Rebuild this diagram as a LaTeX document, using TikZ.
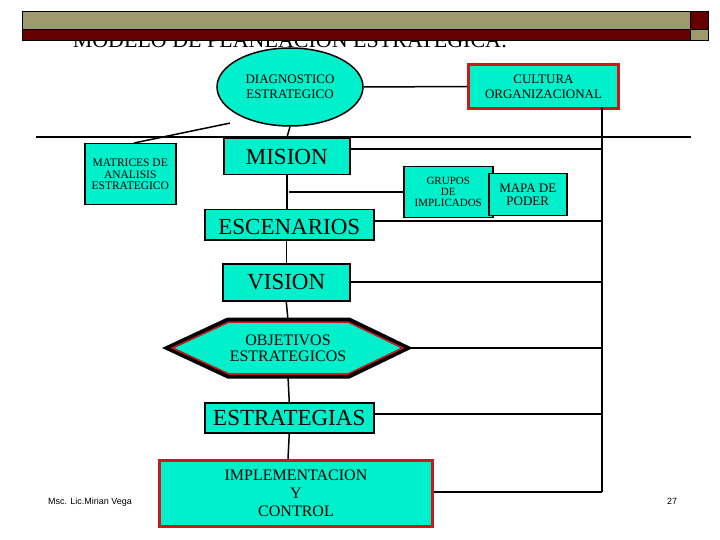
\documentclass[tikz,border=0pt]{standalone}
\usepackage{fontspec}
\usetikzlibrary{shapes.geometric}
\setmainfont{Liberation Serif}
\newfontfamily\sansf{Liberation Sans}
\definecolor{cy}{HTML}{00F0CC}
\definecolor{olv}{HTML}{9E9A6E}
\definecolor{dred}{HTML}{660000}
\definecolor{rd}{HTML}{CC1818}
\begin{document}
\begin{tikzpicture}[x=1pt,y=-1pt,
  bx/.style={draw=black,line width=1.5pt,fill=cy,inner sep=0pt,anchor=north west},
  ln/.style={line width=1.5pt},
  fs/.style={font=\fontsize{#1}{#1}\selectfont}]
\useasboundingbox (0,0) rectangle (720,540);
\fill[white] (0,0) rectangle (720,540);
% title (partly hidden)
\node[fs=22,anchor=base] (title) at (290,48) {MODELO DE PLANEACION ESTRATEGICA:};
% header bars
\draw[fill=olv,line width=1pt] (22,12) rectangle (690,30);
\draw[fill=dred,line width=1pt] (22,30) rectangle (690,41);
\draw[fill=dred,line width=1pt] (690,12) rectangle (708,30);
\draw[fill=olv,line width=1pt] (690,30) rectangle (708,41);
% nodes
\node[draw,line width=1.5pt,fill=cy,ellipse,minimum width=146pt,minimum height=78pt,inner sep=0pt,align=center,fs=13] (diag) at (290,87) {DIAGNOSTICO\\[2pt]ESTRATEGICO};
\node[bx,draw=rd,line width=3pt,minimum width=150pt,minimum height=44pt] (cult) at (467,63) {};
\node[fill=cy,minimum width=140pt,minimum height=35pt,align=center,fs=13] (cultt) at (cult.center) {CULTURA\\[2pt]ORGANIZACIONAL};
\node[bx,minimum width=126pt,minimum height=36pt,fs=23] (mis) at (223,138) {};
\node[fs=23] at (mis.center) {MISION};
\node[bx,minimum width=91pt,minimum height=61pt,align=center,fs=11.5] (mat) at (84,143) {MATRICES DE\\ANALISIS\\ESTRATEGICO};
\node[bx,minimum width=89pt,minimum height=51pt,align=center,fs=11] (grp) at (403,166) {GRUPOS\\DE\\IMPLICADOS};
\node[bx,minimum width=78pt,minimum height=42pt,align=center,fs=13] (mapa) at (488,173) {MAPA DE\\PODER};
\node[bx,minimum width=169pt,minimum height=30pt,fs=23] (esc) at (204,209) {};
\node[fs=23] at ([yshift=-2pt]esc.center) {ESCENARIOS};
\node[bx,minimum width=127pt,minimum height=37pt,fs=23] (vis) at (222,263) {};
\node[fs=23] at (vis.center) {VISION};
% hexagon
\coordinate (hl) at (168,348); \coordinate (hr) at (407,348);
\draw[line width=5pt,fill=cy] (168,348) -- (228,320) -- (349,320) -- (407,348) -- (349,376) -- (228,376) -- cycle;
\draw[rd,line width=1.5pt] (172,348) -- (229,322) -- (348,322) -- (403,348) -- (348,374) -- (229,374) -- cycle;
\node[align=center,fs=16] (obj) at (288,348) {OBJETIVOS\\ESTRATEGICOS};
\node[bx,minimum width=169pt,minimum height=30pt] (est) at (204,402) {};
\node[fs=23] at (est.center) {ESTRATEGIAS};
\node[bx,draw=rd,line width=3pt,minimum width=273pt,minimum height=66pt] (imp) at (158,459) {};
\node[fill=cy,minimum width=262pt,minimum height=57pt,align=center,fs=16] at (imp.center) {IMPLEMENTACION\\[2pt]Y\\[2pt]CONTROL};
\node[font=\sansf\fontsize{9}{9}\selectfont] (auth) at (90,502) {Msc. Lic.Mirian Vega};
\node[font=\sansf\fontsize{9}{9}\selectfont] (pg) at (672,501) {27};
% connectors
\coordinate (vt) at (602,107); \coordinate (vb) at (602,492);
\coordinate (hla) at (36,137); \coordinate (hlb) at (691,137);
\draw[ln] (hla) -- (hlb);
\draw[ln] (vt) -- (vb);
\draw[ln] (diag.east) -- (cult.west);
\draw[ln] (diag.south) -- (mis.north);
\draw[ln] (diag.south west) ++(-8,8) -- (134,143);
\draw[ln] (mis.south) -- (esc.north -| mis.south);
\draw[line width=2.5pt] (289,192) -- (403,192);
\draw[ln] (esc.south -| vis.north) -- (vis.north);
\draw[ln] (vis.south) -- (288,320);
\draw[ln] (288,376) -- (est.north);
\draw[ln] (est.south) -- (288,459);
\draw[ln] (mis.east |- 0,149) -- (602,149);
\draw[ln] (esc.east |- 0,221) -- (602,221);
\draw[ln] (vis.east |- 0,282) -- (602,282);
\draw[ln] (hr) -- (602,348);
\draw[ln] (est.east |- 0,414) -- (602,414);
\draw[ln] (imp.east |- 0,492) -- (vb);
\end{tikzpicture}
\end{document}
